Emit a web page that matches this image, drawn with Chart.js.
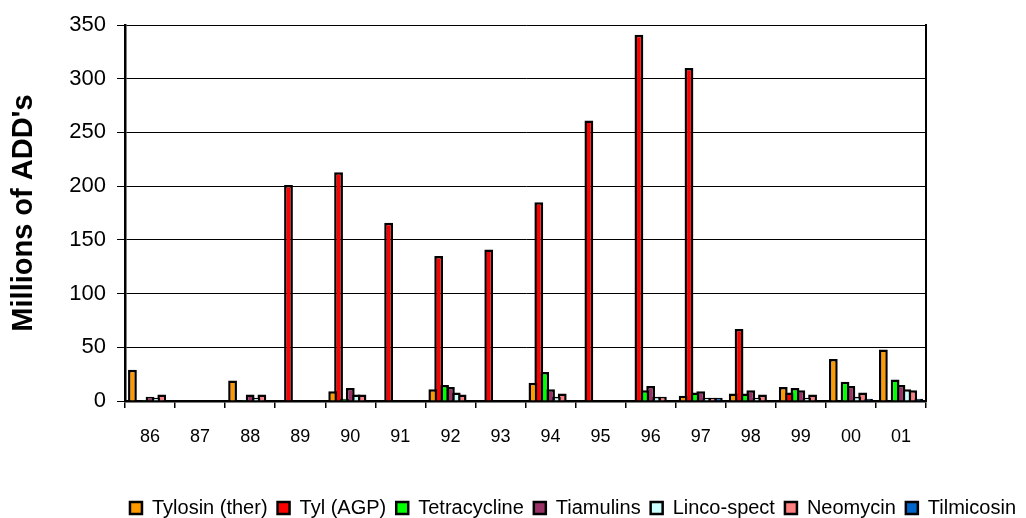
<!DOCTYPE html>
<html>
<head>
<meta charset="utf-8">
<script src="https://cdn.jsdelivr.net/npm/chart.js@4.4.1/dist/chart.umd.min.js"></script>
<style>
  html, body { margin: 0; padding: 0; background: #ffffff; }
  #wrap { width: 1026px; height: 518px; }
</style>
</head>
<body>
<div id="wrap"><canvas id="c" width="1026" height="518"></canvas></div>
<script>
const years = ['86','87','88','89','90','91','92','93','94','95','96','97','98','99','00','01'];
const tylosinTher = [29, 0, 19, 0, 9, 0, 11, 0, 17, 0, 0, 5, 7, 13, 39, 48];
const tylAGP      = [0, 0, 0, 201, 213, 166, 135, 141, 185, 261, 341, 310, 67, 8, 0, 0];
const tetracycline= [1, 0, 1, 0, 2, 0, 15, 0, 27, 0, 10, 8, 7, 12, 18, 20];
const tiamulins   = [4, 0, 6, 0, 12, 0, 13, 0, 11, 0, 14, 9, 10, 10, 14, 15];
const lincoSpect  = [3, 0, 3, 0, 6, 0, 8, 0, 4, 0, 4, 3, 3, 3, 4, 11];
const neomycin    = [6, 0, 6, 0, 6, 0, 6, 0, 7, 0, 4, 3, 6, 6, 8, 10];
const tilmicosin  = [0, 0, 0, 0, 0, 0, 0, 0, 0, 0, 0, 3, 0, 0, 2, 2];
const seriesNames = ['Tylosin (ther)', 'Tyl (AGP)', 'Tetracycline', 'Tiamulins', 'Linco-spect', 'Neomycin', 'Tilmicosin'];
const seriesColors = ['#FF9900', '#FF0000', '#00FF00', '#993366', '#CCFFFF', '#FF8080', '#0066CC'];
const yTicks = [0, 50, 100, 150, 200, 250, 300, 350];
const yTitle = "Millions of ADD's";

const seriesData = [tylosinTher, tylAGP, tetracycline, tiamulins, lincoSpect, neomycin, tilmicosin];
const FONT = "'Liberation Sans', Arial, sans-serif";

const PLOT = { left: 125, right: 926, top: 25, bottom: 401 };
const W = 1026, H = 518, LEGEND_SHIFT = 10;

const datasets = seriesNames.map((name, i) => ({
  label: name,
  data: seriesData[i],
  backgroundColor: seriesColors[i],
  borderColor: '#000000',
  borderWidth: 2.5,
  categoryPercentage: 0.82,
  barPercentage: 1.5
}));

const shiftLegend = {
  id: 'shiftLegend',
  afterLayout(chart) {
    if (chart.legend) {
      chart.legend.top += LEGEND_SHIFT;
      chart.legend.bottom += LEGEND_SHIFT;
    }
  }
};

new Chart(document.getElementById('c'), {
  type: 'bar',
  data: { labels: years, datasets },
  plugins: [shiftLegend],
  options: {
    responsive: false,
    animation: false,
    devicePixelRatio: 1,
    layout: { padding: { left: 0, right: 0, top: PLOT.top, bottom: 0 } },
    plugins: {
      legend: {
        position: 'bottom',
        align: 'end',
        labels: {
          color: '#000000',
          font: { family: FONT, size: 20 },
          boxWidth: 12,
          boxHeight: 12,
          padding: 10
        }
      },
      tooltip: { enabled: false }
    },
    scales: {
      x: {
        offset: true,
        grid: {
          offset: true,
          drawOnChartArea: false,
          drawTicks: true,
          tickLength: 7,
          color: '#000000',
          lineWidth: 1.5
        },
        border: { display: true, color: '#000000', width: 2.5 },
        ticks: {
          color: '#000000',
          font: { family: FONT, size: 18 },
          padding: 18,
          maxRotation: 0,
          autoSkip: false
        },
        afterFit(scale) {
          const lg = scale.chart.legend;
          const lh = lg ? lg.height : 40;
          scale.height = H - PLOT.bottom - lh;
        }
      },
      y: {
        min: 0,
        max: 350,
        afterBuildTicks(scale) { scale.ticks = yTicks.map(v => ({ value: v })); },
        grid: {
          color: '#000000',
          lineWidth: 1,
          drawTicks: true,
          tickLength: 8
        },
        border: { display: true, color: '#000000', width: 2.5 },
        ticks: {
          color: '#000000',
          font: { family: FONT, size: 22 },
          padding: 11
        },
        title: {
          display: true,
          text: yTitle,
          color: '#000000',
          font: { family: FONT, size: 29, weight: 'bold' },
          padding: { top: 7, bottom: 0 }
        },
        afterFit(scale) { scale.width = PLOT.left; }
      },
      y2: {
        position: 'right',
        min: 0,
        max: 350,
        grid: { drawOnChartArea: false, drawTicks: false },
        border: { display: true, color: '#000000', width: 2 },
        ticks: { display: false },
        afterFit(scale) { scale.width = W - PLOT.right; }
      }
    }
  }
});
</script>
</body>
</html>
